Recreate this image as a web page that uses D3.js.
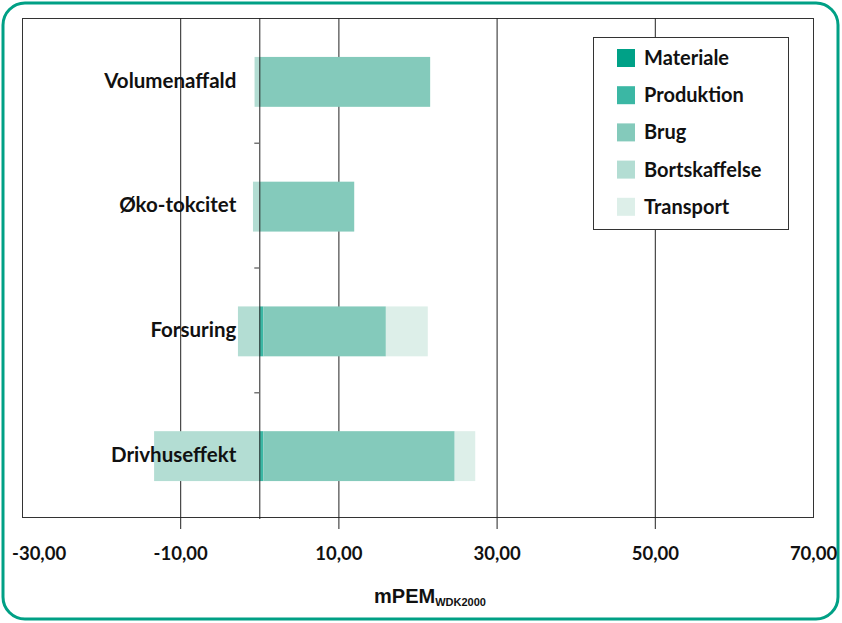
<!DOCTYPE html>
<html>
<head>
<meta charset="utf-8">
<script src="https://cdn.jsdelivr.net/npm/d3@7/dist/d3.min.js"></script>
<style>
  html, body { margin: 0; padding: 0; background: #fff; }
  svg { display: block; }
</style>
</head>
<body>
<svg id="chart" width="842" height="623"></svg>
<script>
// Impact categories (top to bottom)
const categories = ["Volumenaffald", "Øko-tokcitet", "Forsuring", "Drivhuseffekt"];

// Life-cycle phases, stacked in this order
const phases = ["Materiale", "Produktion", "Brug", "Bortskaffelse", "Transport"];

// Values per phase, one per category (mPEM WDK2000)
const materiale     = [0, 0, 0, 0];
const produktion    = [0, 0, 0.5, 0.5];
const brug          = [21.6, 12.0, 15.5, 24.2];
const bortskaffelse = [-0.6, -0.8, -2.7, -13.3];
const transport     = [0, 0, 5.3, 2.6];

// Axis ticks
const gridTicks  = [-10, 10, 30, 50];
const labelTicks = [-30, -10, 10, 30, 50, 70];

const phaseColors = ["#00a187", "#3bb7a4", "#84cabb", "#b3ddd3", "#ddefe9"];

const seriesValues = [materiale, produktion, brug, bortskaffelse, transport];
const rows = categories.map((c, i) => {
  const r = { category: c };
  phases.forEach((p, j) => { r[p] = seriesValues[j][i]; });
  return r;
});

const svg = d3.select("#chart");
const plotLeft = 22, plotRight = 813, plotTop = 18, plotBottom = 517;

const x = d3.scaleLinear().domain([-30, 70]).range([plotLeft, plotRight]);
const y = d3.scaleBand().domain(categories).range([plotTop, plotBottom]).padding(0);
const color = d3.scaleOrdinal().domain(phases).range(phaseColors);

const locale = d3.formatLocale({ decimal: ",", thousands: ".", grouping: [3], currency: ["", ""], minus: "-" });
const fmt = locale.format(".2f");

// Outer rounded frame
svg.append("rect")
  .attr("x", 3).attr("y", 3).attr("width", 835).attr("height", 616)
  .attr("rx", 22).attr("ry", 22)
  .attr("fill", "none").attr("stroke", "#00a085").attr("stroke-width", 3);

// Plot border
svg.append("rect")
  .attr("x", plotLeft + 0.5).attr("y", plotTop + 0.5)
  .attr("width", plotRight - plotLeft).attr("height", plotBottom - plotTop)
  .attr("fill", "none").attr("stroke", "#333").attr("stroke-width", 1);

// Vertical gridlines with ticks hanging below the plot
const gridAxis = d3.axisBottom(x)
  .tickValues(gridTicks)
  .tickSize(-(529 - plotTop))
  .tickFormat("");
const gGrid = svg.append("g").attr("transform", `translate(0,529)`).call(gridAxis);
gGrid.select(".domain").remove();
gGrid.selectAll(".tick line").attr("stroke", "#222").attr("stroke-width", 1);

// Tick labels
const labelAxis = d3.axisBottom(x).tickValues(labelTicks).tickSize(0).tickFormat(fmt);
const gLab = svg.append("g").attr("transform", `translate(0,544)`).call(labelAxis);
gLab.select(".domain").remove();
gLab.selectAll("text")
  .attr("font-family", "Lato, sans-serif")
  .attr("font-weight", "bold")
  .attr("font-size", 18.5)
  .attr("fill", "#111");
// keep the outermost labels inside the frame
gLab.selectAll(".tick").each(function () {
  const t = d3.select(this).select("text");
  const bb = this.getBBox();
  const tr = this.transform.baseVal.consolidate();
  const tx = tr ? tr.matrix.e : 0;
  const leftEdge = tx + bb.x, rightEdge = tx + bb.x + bb.width;
  if (leftEdge < 12) t.attr("x", 12 - leftEdge);
  if (rightEdge > 839) t.attr("x", 839 - rightEdge);
});

// Stacked bars (negatives extend left of zero)
const stack = d3.stack().keys(phases).offset(d3.stackOffsetDiverging);
const series = stack(rows);
const barH = y.bandwidth() * 0.4;

svg.append("g").selectAll("g")
  .data(series)
  .join("g")
  .attr("fill", d => color(d.key))
  .selectAll("rect")
  .data(d => d)
  .join("rect")
  .attr("x", d => x(Math.min(d[0], d[1])))
  .attr("y", d => y(d.data.category) + (y.bandwidth() - barH) / 2 + 1.5)
  .attr("width", d => Math.abs(x(d[1]) - x(d[0])))
  .attr("height", barH);

// Category axis at zero
const x0 = x(0);
svg.append("line")
  .attr("x1", x0 + 0.5).attr("x2", x0 + 0.5)
  .attr("y1", plotTop).attr("y2", plotBottom + 2)
  .attr("stroke", "#222").attr("stroke-width", 1);

const sepTicks = categories.slice(1).map(c => y(c));
svg.append("g").selectAll("line")
  .data(sepTicks)
  .join("line")
  .attr("x1", x0 - 5).attr("x2", x0)
  .attr("y1", d => d + 0.5).attr("y2", d => d + 0.5)
  .attr("stroke", "#777").attr("stroke-width", 1.5);

svg.append("g").selectAll("text")
  .data(categories)
  .join("text")
  .attr("x", x0 - 23)
  .attr("y", d => y(d) + y.bandwidth() / 2)
  .attr("dy", "0.35em")
  .attr("text-anchor", "end")
  .attr("font-family", "Lato, sans-serif")
  .attr("font-weight", "bold")
  .attr("font-size", 20.5)
  .attr("fill", "#111")
  .text(d => d);

// Axis title with subscript
const title = svg.append("text")
  .attr("x", 430).attr("y", 603)
  .attr("text-anchor", "middle")
  .attr("font-family", "'Liberation Sans', Arial, sans-serif")
  .attr("font-weight", "bold")
  .attr("fill", "#111");
title.append("tspan").attr("font-size", 20).text("mPEM");
title.append("tspan").attr("font-size", 11).attr("dy", 3).text("WDK2000");

// Legend
const lg = svg.append("g").attr("transform", "translate(593,37)");
lg.append("rect")
  .attr("x", 0.5).attr("y", 0.5).attr("width", 195).attr("height", 192)
  .attr("fill", "#fff").attr("stroke", "#333").attr("stroke-width", 1);
const items = lg.selectAll("g.item")
  .data(phases)
  .join("g")
  .attr("class", "item")
  .attr("transform", (d, i) => `translate(0,${21 + i * 37.2})`);
items.append("rect")
  .attr("x", 24).attr("y", -9).attr("width", 18).attr("height", 18)
  .attr("fill", d => color(d));
items.append("text")
  .attr("x", 51).attr("y", 0).attr("dy", "0.35em")
  .attr("font-family", "Lato, sans-serif")
  .attr("font-weight", "bold")
  .attr("font-size", 20)
  .attr("fill", "#111")
  .text(d => d);
</script>
</body>
</html>
